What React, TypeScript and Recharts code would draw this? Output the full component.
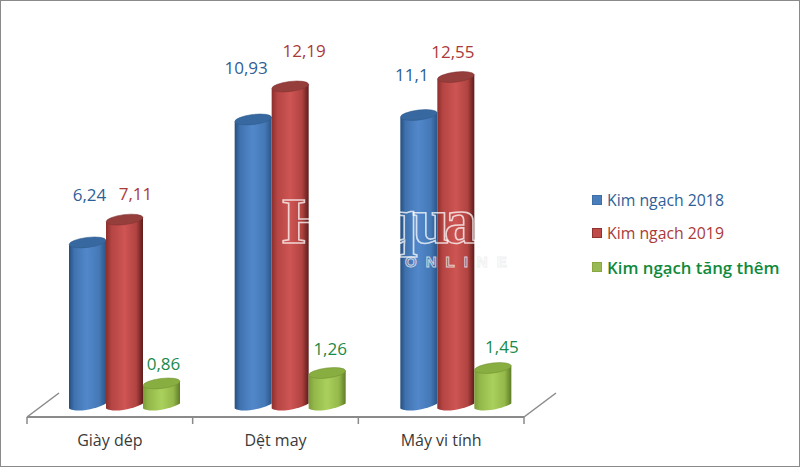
import React from "react";
import { BarChart, Bar, XAxis, YAxis, Legend, LabelList } from "recharts";

const categories = ["Giày dép", "Dệt may", "Máy vi tính"];
const values2018 = [6.24, 10.93, 11.1];
const values2019 = [7.11, 12.19, 12.55];
const valuesAdded = [0.86, 1.26, 1.45];

const chartData = categories.map((name, i) => ({
  name,
  y2018: values2018[i],
  y2019: values2019[i],
  added: valuesAdded[i],
}));

const W = 798;
const H = 465;
const LEGEND_W = 205;
const X_AXIS_H = 30;
const margin = { top: 49, right: 70, bottom: 49 - X_AXIS_H, left: 26 };
const AXIS_Y = H - margin.bottom - X_AXIS_H;
const AXIS_LEFT = margin.left;
const AXIS_RIGHT = W - margin.right - LEGEND_W;
// fake 3D floor: bars stand further back than the axis
const DEPTH_X = 15;
const DEPTH_Y = -11;

// hand placed data labels in the original, offset from the top of each bar
const nudge2018 = [[2, -48], [-7, -52], [-7, -41]];
const nudge2019 = [[11, -26], [14, -36], [-3, -26]];
const nudgeAdded = [[2, -20], [3, -24], [9, -21]];

const fmt = (v: number) => String(v).replace(".", ",");

const Cylinder = (gradId: string, top: string, edge: string) => (props: any) => {
  const { x, y, width, height } = props;
  const px = x + DEPTH_X;
  const py = y + DEPTH_Y;
  const rx = width / 2;
  const cx = px + rx;
  const yl = py + height + 2.5;
  const yr = py + height - 2.5;
  const body = `M${px},${py + 2.5} L${px},${yl} C${px + width * 0.2},${yl + 5} ${px + width * 0.8},${yr + 5} ${px + width},${yr} L${px + width},${py - 2.5} Z`;
  return (
    <g>
      <path d={body} fill={`url(#${gradId})`} />
      <ellipse
        cx={cx}
        cy={py}
        rx={rx}
        ry={5}
        fill={top}
        stroke={edge}
        strokeWidth={0.5}
        transform={`rotate(-7 ${cx} ${py})`}
      />
    </g>
  );
};

const barLabel = (color: string, nudge: number[][]) => (props: any) => {
  const { value, index } = props;
  const box = props.viewBox ?? props;
  const cx = box.x + box.width / 2 + DEPTH_X + nudge[index][0];
  const cy = box.y + DEPTH_Y + nudge[index][1];
  return (
    <text x={cx} y={cy} textAnchor="middle" dominantBaseline="central" fontSize={17} fill={color} fontFamily="Open Sans">
      {fmt(value)}
    </text>
  );
};

const legendText = ["#2f5f97", "#a93a38", "#0f8a3c"];
const legendEdge = ["#3f6fa8", "#8f3230", "#86a83f"];

const renderLegend = (props: any) => (
  <div style={{ fontFamily: "Open Sans" }}>
    {props.payload.map((p: any, i: number) => (
      <div
        key={p.value}
        style={{
          display: "flex",
          alignItems: "center",
          height: i === 0 ? 32 : 34,
          color: legendText[i],
          fontSize: i === 2 ? 16.8 : 15.8,
          fontWeight: i === 2 ? 600 : 400,
          whiteSpace: "nowrap",
        }}
      >
        <span style={{ width: 10, height: 10, background: p.color, border: `1px solid ${legendEdge[i]}`, boxSizing: "border-box", marginRight: 5 }} />
        {p.value}
      </div>
    ))}
  </div>
);

export default function App() {
  return (
    <div
      style={{
        position: "absolute",
        left: 0,
        top: 0,
        width: W,
        height: H,
        border: "1px solid #8a8a8a",
        background: "#fff",
      }}
    >
      <BarChart width={W} height={H} data={chartData} margin={margin} barSize={37} barGap={0} barCategoryGap={27}>
        <defs>
          <linearGradient id="gBlue" x1="0" y1="0" x2="1" y2="0">
            <stop offset="0%" stopColor="#264f80" />
            <stop offset="14%" stopColor="#3f72ae" />
            <stop offset="48%" stopColor="#5288cb" />
            <stop offset="82%" stopColor="#4478b6" />
            <stop offset="100%" stopColor="#2b5586" />
          </linearGradient>
          <linearGradient id="gRed" x1="0" y1="0" x2="1" y2="0">
            <stop offset="0%" stopColor="#8c2f2d" />
            <stop offset="15%" stopColor="#b54543" />
            <stop offset="50%" stopColor="#ce5553" />
            <stop offset="82%" stopColor="#b04341" />
            <stop offset="100%" stopColor="#5e1c1a" />
          </linearGradient>
          <linearGradient id="gGreen" x1="0" y1="0" x2="1" y2="0">
            <stop offset="0%" stopColor="#7c9c38" />
            <stop offset="15%" stopColor="#93b84a" />
            <stop offset="50%" stopColor="#aad05c" />
            <stop offset="82%" stopColor="#94b84a" />
            <stop offset="100%" stopColor="#5f7c28" />
          </linearGradient>
        </defs>
        <XAxis
          dataKey="name"
          height={X_AXIS_H}
          tickLine={false}
          axisLine={{ stroke: "#8a8a8a", strokeWidth: 2 }}
          tick={{ fontSize: 16, fill: "#3a3a3a", fontFamily: "Open Sans" }}
          tickMargin={12}
          interval={0}
        />
        <YAxis hide domain={[0, 14]} />
        <Legend
          layout="vertical"
          align="right"
          verticalAlign="middle"
          width={LEGEND_W}
          content={renderLegend}
          wrapperStyle={{ left: 591, top: 183, width: LEGEND_W }}
        />
        <Bar dataKey="y2018" name="Kim ngạch 2018" fill="#4a7ebb" shape={Cylinder("gBlue", "#37689f", "#2f5a8c")} isAnimationActive={false}>
          <LabelList dataKey="y2018" content={barLabel("#2f5f97", nudge2018)} />
        </Bar>
        <Bar dataKey="y2019" name="Kim ngạch 2019" fill="#be4b48" shape={Cylinder("gRed", "#953e3c", "#7f3130")} isAnimationActive={false}>
          <LabelList dataKey="y2019" content={barLabel("#a93a38", nudge2019)} />
        </Bar>
        <Bar dataKey="added" name="Kim ngạch tăng thêm" fill="#98b954" shape={Cylinder("gGreen", "#88ad40", "#6f8f30")} isAnimationActive={false}>
          <LabelList dataKey="added" content={barLabel("#1a8a4a", nudgeAdded)} />
        </Bar>
      </BarChart>
      {/* floor edges and ticks sit between categories, recharts can't put them there */}
      <svg width={W} height={H} style={{ position: "absolute", left: 0, top: 0, pointerEvents: "none" }}>
        <g stroke="#8a8a8a" strokeWidth={1.5} fill="none">
          {[0, 1, 2, 3].map((i) => {
            const tx = AXIS_LEFT + ((AXIS_RIGHT - AXIS_LEFT) * i) / 3;
            return <line key={i} x1={tx} x2={tx} y1={AXIS_Y} y2={AXIS_Y + 7} />;
          })}
          <line x1={AXIS_LEFT} y1={AXIS_Y} x2={AXIS_LEFT + 32} y2={AXIS_Y - 24} />
          <line x1={AXIS_RIGHT} y1={AXIS_Y} x2={AXIS_RIGHT + 32} y2={AXIS_Y - 24} />
        </g>
        <text x={281} y={242} fontFamily="Liberation Serif" fontWeight={700} fontSize={66} fill="none" stroke="#fff" strokeOpacity={0.75} strokeWidth={1.6} textLength={195}>
          Hải qua
        </text>
        <text x={404} y={266} fontFamily="Liberation Sans" fontWeight={700} fontSize={15} letterSpacing={9} fill="none" stroke="#ececec" strokeOpacity={0.8} strokeWidth={1}>
          ONLINE
        </text>
      </svg>
    </div>
  );
}
